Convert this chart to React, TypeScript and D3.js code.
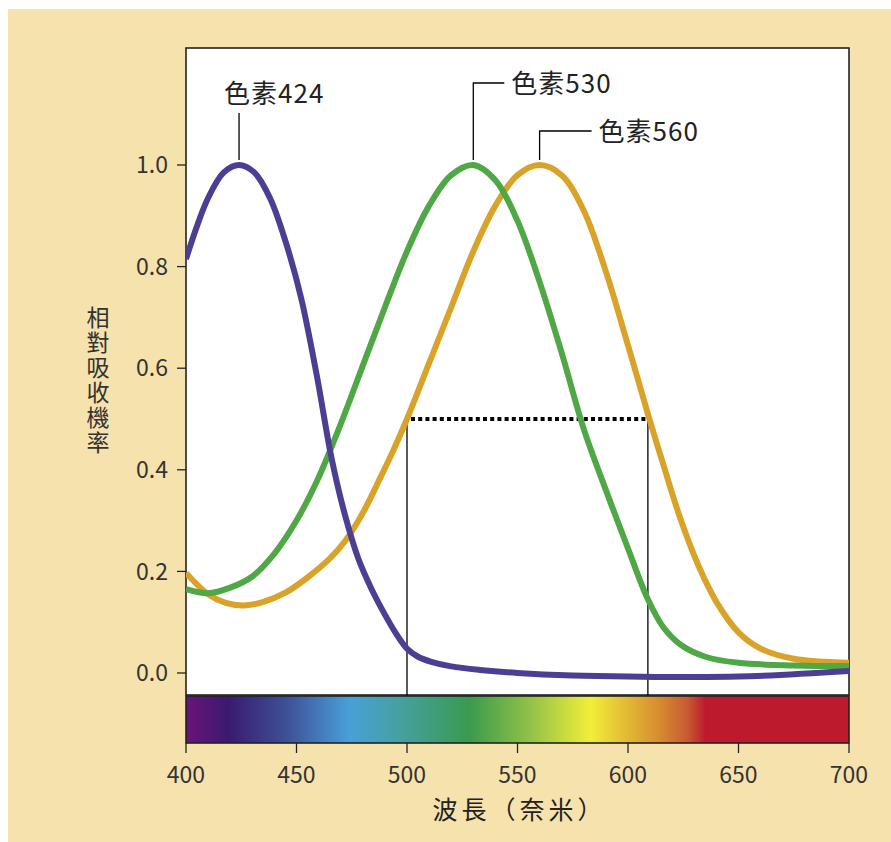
import React from "react";
import * as d3 from "d3";

// ---- data ----
const pigment424Wl = [400, 405, 410, 417, 424, 431, 438, 445, 452, 459, 466, 472, 478, 484, 490, 495, 500, 505, 511, 520, 533, 550, 575, 600, 650, 700];
const pigment424Val = [0.815, 0.88, 0.935, 0.985, 1.0, 0.985, 0.935, 0.85, 0.74, 0.59, 0.42, 0.31, 0.225, 0.165, 0.115, 0.078, 0.048, 0.032, 0.022, 0.013, 0.006, 0.0, -0.005, -0.007, -0.007, 0.004];

const pigment530Wl = [400, 410, 420, 430, 440, 450, 460, 470, 480, 490, 500, 510, 520, 530, 540, 550, 560, 570, 580, 590, 600, 609, 616, 624, 635, 650, 675, 700];
const pigment530Val = [0.165, 0.157, 0.168, 0.19, 0.235, 0.3, 0.385, 0.49, 0.605, 0.72, 0.83, 0.92, 0.98, 1.0, 0.97, 0.89, 0.77, 0.63, 0.48, 0.36, 0.245, 0.145, 0.09, 0.055, 0.032, 0.02, 0.015, 0.014];

const pigment560Wl = [400, 410, 418, 426, 435, 445, 455, 465, 472, 480, 488, 494, 500, 510, 520, 530, 540, 550, 560, 570, 580, 590, 600, 609, 616, 624, 632, 640, 650, 660, 675, 700];
const pigment560Val = [0.197, 0.155, 0.138, 0.133, 0.14, 0.158, 0.188, 0.225, 0.26, 0.315, 0.385, 0.44, 0.5, 0.61, 0.72, 0.83, 0.92, 0.98, 1.0, 0.98, 0.91, 0.79, 0.645, 0.51, 0.41, 0.3, 0.21, 0.14, 0.08, 0.048, 0.028, 0.02];

const pigmentNames = ["色素424", "色素530", "色素560"];
const pigmentPeaks = [424, 530, 560];
const pigmentColors = ["#4b3f94", "#4fa746", "#d9a228"];

const xTicks = [400, 450, 500, 550, 600, 650, 700];
const yTicks = [0.0, 0.2, 0.4, 0.6, 0.8, 1.0];

const bandwidthRange = [500, 609];
const bandwidthLevel = 0.5;

const spectrumWl = [400, 419, 445, 474, 498, 528, 554, 583, 600, 613, 627, 635, 700];
const spectrumColors = ["#6a1478", "#3a1a70", "#3e4f96", "#48a0d8", "#45a09e", "#3a9a4e", "#8cbf48", "#f2ee3a", "#e2b834", "#d8902f", "#c85a32", "#bd1a2e", "#bd1a2e"];

const xTitle = "波長（奈米）";
const yTitle = "相對吸收機率";

// ---- layout ----
const W = 891;
const H = 842;
const left = 186;
const right = 849;
const top = 48;
const plotBottom = 695;
const barTop = 696;
const barBottom = 743;

const FONT = "'Noto Sans CJK TC', 'Noto Sans', sans-serif";

export default function App() {
  const x = d3.scaleLinear().domain([400, 700]).range([left, right]);
  const y = d3.scaleLinear().domain([0, 1]).range([673, 165]);

  const line = d3
    .line<[number, number]>()
    .x((d) => x(d[0]))
    .y((d) => y(d[1]))
    .curve(d3.curveCatmullRom.alpha(0.5));

  const series = [
    { wl: pigment424Wl, val: pigment424Val, color: pigmentColors[0] },
    { wl: pigment530Wl, val: pigment530Val, color: pigmentColors[1] },
    { wl: pigment560Wl, val: pigment560Val, color: pigmentColors[2] },
  ];
  const drawOrder = [2, 1, 0];

  const gradStops = spectrumWl.map((w, i) => ({
    offset: ((w - 400) / 300) * 100 + "%",
    color: spectrumColors[i],
  }));

  const peakY = y(1) - 5;
  const ann0x = x(pigmentPeaks[0]);
  const ann1x = x(pigmentPeaks[1]);
  const ann2x = x(pigmentPeaks[2]);

  return (
    <svg
      width={W}
      height={H}
      style={{ position: "absolute", left: 0, top: 0 }}
      fontFamily={FONT}
    >
      <defs>
        <linearGradient id="spec" x1="0" x2="1" y1="0" y2="0">
          {gradStops.map((s, i) => (
            <stop key={i} offset={s.offset} stopColor={s.color} />
          ))}
        </linearGradient>
        <clipPath id="plotClip">
          <rect x={left} y={top} width={right - left} height={plotBottom - top} />
        </clipPath>
      </defs>
      <rect x={0} y={0} width={W} height={H} fill="#ffffff" />
      <rect x={8} y={9} width={W - 8} height={H - 9} fill="#f6e2ad" />

      {/* plot area */}
      <rect x={left} y={top} width={right - left} height={plotBottom - top} fill="#ffffff" stroke="#222" strokeWidth={1.6} />

      {/* bandwidth lines */}
      <g stroke="#000" fill="none">
        <line x1={x(bandwidthRange[0])} x2={x(bandwidthRange[0])} y1={y(bandwidthLevel)} y2={barTop} strokeWidth={1.3} />
        <line x1={x(bandwidthRange[1])} x2={x(bandwidthRange[1])} y1={y(bandwidthLevel)} y2={barTop} strokeWidth={1.3} />
        <line x1={x(bandwidthRange[0]) + 4} x2={x(bandwidthRange[1]) - 2} y1={y(bandwidthLevel)} y2={y(bandwidthLevel)} strokeWidth={4} strokeDasharray="4 3.2" />
      </g>

      {/* curves */}
      <g clipPath="url(#plotClip)">
        {drawOrder.map((i) => {
          const s = series[i];
          const pts = s.wl.map((w, k) => [w, s.val[k]] as [number, number]);
          return <path key={i} d={line(pts) || ""} fill="none" stroke={s.color} strokeWidth={6} />;
        })}
      </g>

      {/* annotations */}
      <g stroke="#000" strokeWidth={1.3} fill="none">
        <line x1={ann0x} x2={ann0x} y1={113} y2={peakY} />
        <polyline points={`${ann1x},${peakY} ${ann1x},${83} ${ann1x + 31},${83}`} />
        <polyline points={`${ann2x},${peakY} ${ann2x},${131} ${ann2x + 52},${131}`} />
      </g>
      <g fill="#222" fontSize={26} letterSpacing={1}>
        <text x={ann0x - 15} y={103}>{pigmentNames[0]}</text>
        <text x={ann1x + 38} y={93}>{pigmentNames[1]}</text>
        <text x={ann2x + 59} y={141}>{pigmentNames[2]}</text>
      </g>

      {/* spectrum bar */}
      <rect x={left} y={barTop} width={right - left} height={barBottom - barTop} fill="url(#spec)" stroke="#222" strokeWidth={1.6} />

      {/* y axis */}
      <g>
        {yTicks.map((t) => (
          <g key={t}>
            <line x1={left - 9} x2={left} y1={y(t)} y2={y(t)} stroke="#222" strokeWidth={1.3} />
            <text x={168} y={y(t)} dy="0.36em" textAnchor="end" fontSize={23} fill="#333">
              {t.toFixed(1)}
            </text>
          </g>
        ))}
      </g>

      {/* x axis */}
      <g>
        {xTicks.map((t) => (
          <g key={t}>
            <line x1={x(t)} x2={x(t)} y1={barBottom} y2={barBottom + 10} stroke="#222" strokeWidth={1.3} />
            <text x={x(t)} y={775} dy="0.36em" textAnchor="middle" fontSize={23} fill="#333">
              {t}
            </text>
          </g>
        ))}
      </g>

      {/* titles */}
      <text x={(left + right) / 2 + 2} y={810} dy="0.36em" textAnchor="middle" fontSize={25} letterSpacing={4} fill="#222">
        {xTitle}
      </text>
      <text
        x={98}
        y={306}
        fontSize={23}
        fill="#333"
        letterSpacing={2}
        style={{ writingMode: "vertical-rl", textOrientation: "upright" } as React.CSSProperties}
      >
        {yTitle}
      </text>
    </svg>
  );
}
